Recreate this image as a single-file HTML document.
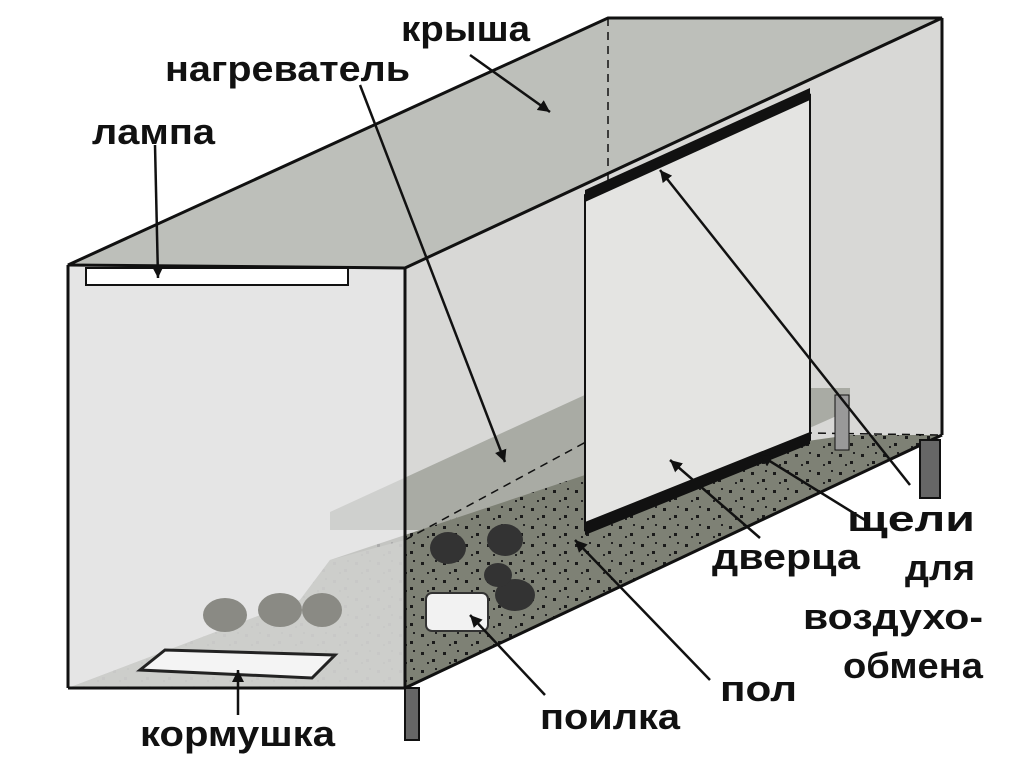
<!DOCTYPE html>
<html><head><meta charset="utf-8"><style>
html,body{margin:0;padding:0;background:#fff;}
svg text{font-family:"Liberation Sans",sans-serif;font-weight:bold;font-size:36px;fill:#111;}
</style></head><body>
<svg width="1024" height="768" viewBox="0 0 1024 768" xmlns="http://www.w3.org/2000/svg">
<defs>
<marker id="a" markerWidth="12" markerHeight="12" refX="10" refY="5" orient="auto" markerUnits="userSpaceOnUse" viewBox="0 0 10 10"><path d="M0,0 L10,5 L0,10 z" fill="#111"/></marker>
<pattern id="dots" width="22" height="18" patternUnits="userSpaceOnUse">
<rect width="22" height="18" fill="#7e8175"/>
<rect x="3" y="4" width="3" height="3" fill="#1a1a1a"/><rect x="14" y="11" width="3" height="3" fill="#1a1a1a"/><rect x="9" y="14" width="2" height="2" fill="#222"/><rect x="17" y="2" width="2" height="2" fill="#222"/>
</pattern>
</defs>
<rect width="1024" height="768" fill="#fff"/>
<polygon points="405,268 942,18 942,435 405,688" fill="#d8d8d6"/>
<polygon points="330,512 600,388 850,388 850,410 580,530 330,530" fill="#a9aba4"/>
<polygon points="68,688 405,688 942,435 850,435 600,470 330,560 300,600" fill="url(#dots)"/>
<polygon points="68,688 300,600 330,560 405,540 405,688" fill="#a8aaa3" opacity="0.8"/>
<rect x="68" y="265" width="337" height="423" fill="#dcdcdc" opacity="0.75"/>
<polygon points="68,265 405,268 942,18 608,18" fill="#bdbfba" stroke="#111" stroke-width="3"/>
<line x1="68" y1="265" x2="68" y2="688" stroke="#111" stroke-width="3"/>
<line x1="405" y1="268" x2="405" y2="688" stroke="#111" stroke-width="3"/>
<line x1="942" y1="18" x2="942" y2="435" stroke="#111" stroke-width="3"/>
<line x1="68" y1="688" x2="405" y2="688" stroke="#111" stroke-width="3"/>
<line x1="405" y1="688" x2="942" y2="435" stroke="#111" stroke-width="3"/>
<line x1="608" y1="18" x2="608" y2="430" stroke="#111" stroke-width="1.5" stroke-dasharray="8,6"/>
<line x1="608" y1="430" x2="942" y2="435" stroke="#111" stroke-width="1.5" stroke-dasharray="8,6"/>
<line x1="405" y1="540" x2="608" y2="430" stroke="#111" stroke-width="1.5" stroke-dasharray="8,6"/>
<rect x="405" y="688" width="14" height="52" fill="#666" stroke="#111" stroke-width="2"/>
<rect x="920" y="440" width="20" height="58" fill="#666" stroke="#111" stroke-width="2"/>
<rect x="835" y="395" width="14" height="55" fill="#999" stroke="#111" stroke-width="1"/>
<polygon points="585,195 810,95 810,440 585,530" fill="#e4e4e2" stroke="#111" stroke-width="2"/>
<polygon points="585,190 810,88 810,100 585,202" fill="#111"/>
<polygon points="585,522 810,432 810,444 585,535" fill="#111"/>
<rect x="86" y="268" width="262" height="17" fill="#fff" stroke="#111" stroke-width="2"/>
<polygon points="140,670 165,650 335,655 312,678" fill="#f4f4f4" stroke="#222" stroke-width="3"/>
<rect x="426" y="593" width="62" height="38" rx="6" fill="#f2f2f2" stroke="#333" stroke-width="2"/>
<g fill="#8a8a84"><ellipse cx="225" cy="615" rx="22" ry="17"/><ellipse cx="280" cy="610" rx="22" ry="17"/><ellipse cx="322" cy="610" rx="20" ry="17"/></g>
<g fill="#333"><ellipse cx="448" cy="548" rx="18" ry="16"/><ellipse cx="505" cy="540" rx="18" ry="16"/><ellipse cx="515" cy="595" rx="20" ry="16"/><ellipse cx="498" cy="575" rx="14" ry="12"/></g>
<g stroke="#111" stroke-width="2.5" fill="none" marker-end="url(#a)">
<line x1="155" y1="145" x2="158" y2="278"/>
<line x1="470" y1="55" x2="550" y2="112"/>
<line x1="360" y1="85" x2="505" y2="462"/>
<line x1="910" y1="485" x2="660" y2="170"/>
<line x1="865" y1="520" x2="760" y2="455"/>
<line x1="760" y1="538" x2="670" y2="460"/>
<line x1="710" y1="680" x2="575" y2="540"/>
<line x1="545" y1="695" x2="470" y2="615"/>
<line x1="238" y1="715" x2="238" y2="670"/>
</g>
<text x="401" y="41" textLength="129" lengthAdjust="spacingAndGlyphs">крыша</text>
<text x="165" y="81" textLength="245" lengthAdjust="spacingAndGlyphs">нагреватель</text>
<text x="92" y="144" textLength="123" lengthAdjust="spacingAndGlyphs">лампа</text>
<text x="847" y="531" textLength="128" lengthAdjust="spacingAndGlyphs">щели</text>
<text x="905" y="580" textLength="70" lengthAdjust="spacingAndGlyphs">для</text>
<text x="803" y="629" textLength="180" lengthAdjust="spacingAndGlyphs">воздухо-</text>
<text x="843" y="678" textLength="140" lengthAdjust="spacingAndGlyphs">обмена</text>
<text x="712" y="569" textLength="148" lengthAdjust="spacingAndGlyphs">дверца</text>
<text x="720" y="701" textLength="77" lengthAdjust="spacingAndGlyphs">пол</text>
<text x="540" y="729" textLength="140" lengthAdjust="spacingAndGlyphs">поилка</text>
<text x="140" y="746" textLength="195" lengthAdjust="spacingAndGlyphs">кормушка</text>
</svg>
</body></html>
